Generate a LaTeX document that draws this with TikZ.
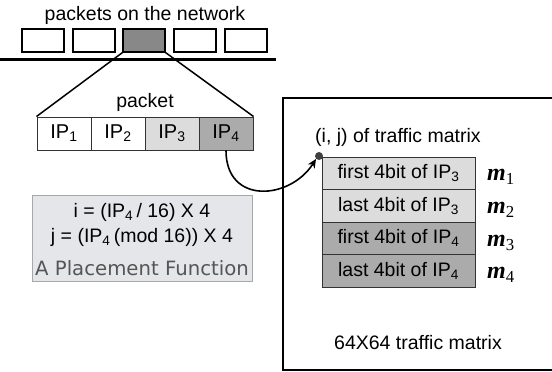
\documentclass[tikz,border=0pt]{standalone}
\usepackage{fontspec}
\setmainfont{Liberation Sans}
\newfontfamily\dejavu{DejaVu Sans}
\newfontfamily\tnr{Liberation Serif}
\usetikzlibrary{arrows.meta}
\definecolor{pkgray}{HTML}{888888}
\definecolor{lightc}{HTML}{DCDCDC}
\definecolor{darkc}{HTML}{ABABAB}
\definecolor{pfill}{HTML}{E5E6E9}
\definecolor{pborder}{HTML}{A8A8A8}
\definecolor{ptext}{HTML}{555555}
\newcommand{\lowsub}[1]{\textsubscript{#1}}
\begin{document}
\begin{tikzpicture}[x=1pt,y=-1pt,
  txt/.style={font=\fontsize{19.5}{22}\selectfont, inner sep=0pt},
  netbox/.style={draw=black, line width=1.2pt, minimum width=42pt, minimum height=23pt, inner sep=0pt},
  ipcell/.style={draw=black!80, line width=1pt, minimum width=54pt, minimum height=33pt, inner sep=0pt, font=\fontsize{20}{22}\selectfont},
  mrow/.style={draw=black!80, line width=1pt, minimum width=153pt, minimum height=32.5pt, inner sep=0pt, font=\fontsize{19.5}{22}\selectfont},
  mlab/.style={font=\tnr\bfseries\itshape\fontsize{24}{26}\selectfont, inner sep=0pt}]
\useasboundingbox (0,0) rectangle (552,372);
% title
\node[txt] (title) at (145,15) {packets on the network};
% packets on the network
\node[netbox] (n1) at (43,40.5) {};
\node[netbox] (n2) at (94,40.5) {};
\node[netbox, fill=pkgray] (n3) at (144,40.5) {};
\node[netbox] (n4) at (195,40.5) {};
\node[netbox] (n5) at (246,40.5) {};
\coordinate (l0) at (0,59);
\coordinate (l1) at (276,59);
\draw[line width=3pt] (l0) -- (l1);
% packet
\node[txt] (ptitle) at (145,102) {packet};
\node[ipcell, fill=white] (ip1) at (64,133.5) {IP\lowsub{1}};
\node[ipcell, fill=white] (ip2) at (118,133.5) {IP\lowsub{2}};
\node[ipcell, fill=lightc] (ip3) at (172,133.5) {IP\lowsub{3}};
\node[ipcell, fill=darkc] (ip4) at (226,133.5) {IP\lowsub{4}};
\draw[line width=1.5pt] (n3.south west) -- (ip1.north west);
\draw[line width=1.5pt] (n3.south east) -- (ip4.north east);
% placement function
\node[draw=pborder, fill=pfill, line width=1pt, minimum width=220pt, minimum height=86pt, inner sep=0pt] (pf) at (142,238) {};
\node[txt] (eqi) at (142,212) {i = (IP\lowsub{4}\,/ 16) X 4};
\node[txt] (eqj) at (142,237) {j = (IP\lowsub{4}\,(mod 16)) X 4};
\node[inner sep=0pt, font=\dejavu\fontsize{19.7}{22}\selectfont, text=ptext] (pft) at (142,268) {A Placement Function};
% traffic matrix box
\coordinate (b1) at (283,98);
\coordinate (b2) at (556,98);
\coordinate (b3) at (556,370);
\coordinate (b4) at (283,370);
\draw[line width=2.2pt] (b2) -- (b1) -- (b4) -- (b3);
\node[txt, anchor=west] (ij) at (315,137) {(i, j) of traffic matrix};
\node[mrow, fill=lightc] (r1) at (398.5,173.25) {first 4bit of IP\lowsub{3}};
\node[mrow, fill=lightc] (r2) at (398.5,205.75) {last 4bit of IP\lowsub{3}};
\node[mrow, fill=darkc] (r3) at (398.5,238.25) {first 4bit of IP\lowsub{4}};
\node[mrow, fill=darkc] (r4) at (398.5,270.75) {last 4bit of IP\lowsub{4}};
\node[mlab] (m1) at (501,177) {m\lowsub{\mdseries\upshape 1}};
\node[mlab] (m2) at (501,210) {m\lowsub{\mdseries\upshape 2}};
\node[mlab] (m3) at (501,243) {m\lowsub{\mdseries\upshape 3}};
\node[mlab] (m4) at (501,275) {m\lowsub{\mdseries\upshape 4}};
\node[txt] (tm) at (418,343) {64X64 traffic matrix};
% dot and arrow
\node[circle, fill=black!75, inner sep=0pt, minimum size=8pt] (dot) at (319,156) {};
\draw[line width=1.6pt, -{Stealth[length=9pt,width=8pt]}] (ip4.south) .. controls (226,205) and (290,200) .. (dot.south west);
\end{tikzpicture}
\end{document}
